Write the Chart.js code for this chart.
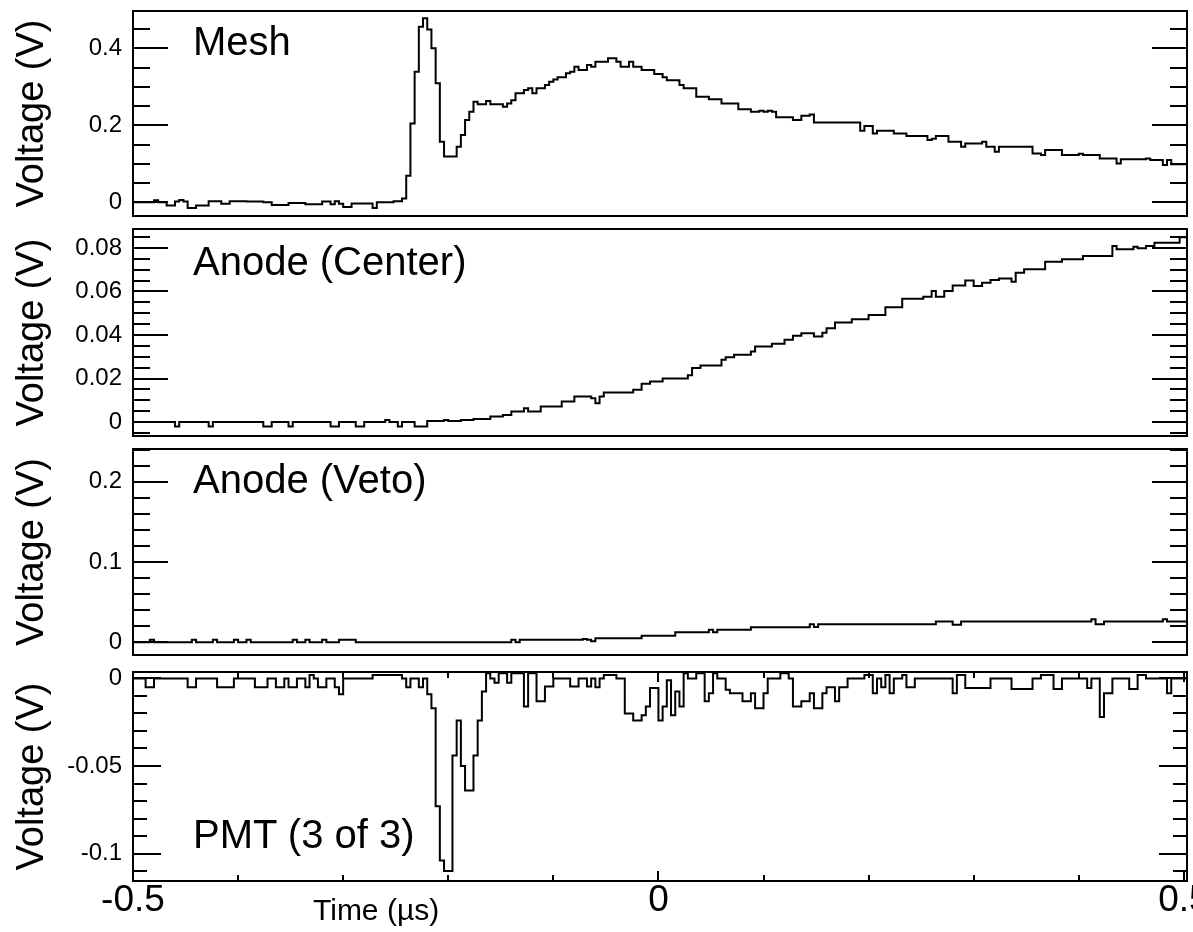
<!DOCTYPE html>
<html>
<head>
<meta charset="utf-8">
<title>Waveforms</title>
<script src="https://cdn.jsdelivr.net/npm/chart.js@4/dist/chart.umd.min.js"></script>
<style>
  html, body { margin: 0; padding: 0; background: #fff; }
  body { position: relative; width: 1193px; height: 932px; overflow: hidden; }
  canvas { position: absolute; left: 0; }
  .lbl {
    position: absolute;
    font-family: "Liberation Sans", Arial, Helvetica, sans-serif;
    line-height: 1;
    white-space: nowrap;
    color: #000;
  }
</style>
</head>
<body>
<canvas id="c-mesh"></canvas>
<canvas id="c-center"></canvas>
<canvas id="c-veto"></canvas>
<canvas id="c-pmt"></canvas>

<div class="lbl" style="left:193px; top:21px; font-size:40px;">Mesh</div>
<div class="lbl" style="left:193px; top:241px; font-size:40px;">Anode (Center)</div>
<div class="lbl" style="left:193px; top:459px; font-size:40px;">Anode (Veto)</div>
<div class="lbl" style="left:193px; top:814px; font-size:40px;">PMT (3 of 3)</div>
<div class="lbl" style="left:313px; top:895px; font-size:30px;">Time (µs)</div>

<script>
// time axis (µs)
const timeTicks = [-0.5, 0, 0.5];
const timeTickLabels = ['-0.5', '0', '0.5'];

// y tick labels per channel
const meshTicks = [0, 0.2, 0.4];
const meshTickLabels = ['0', '0.2', '0.4'];
const centerTicks = [0, 0.02, 0.04, 0.06, 0.08];
const centerTickLabels = ['0', '0.02', '0.04', '0.06', '0.08'];
const vetoTicks = [0, 0.1, 0.2];
const vetoTickLabels = ['0', '0.1', '0.2'];
const pmtTicks = [-0.1, -0.05, 0];
const pmtTickLabels = ['-0.1', '-0.05', '0'];

// histogram contents: each entry is the left edge of a run (µs) and its level (V)
const meshTime = [
  -0.500, -0.480, -0.476, -0.468, -0.460, -0.456, -0.452, -0.448, -0.440, -0.428,
  -0.416, -0.408, -0.392, -0.376, -0.368, -0.352, -0.336, -0.320, -0.312, -0.308,
  -0.304, -0.300, -0.292, -0.272, -0.268, -0.252, -0.244, -0.240, -0.236, -0.232,
  -0.228, -0.224, -0.220, -0.216, -0.212, -0.208, -0.204, -0.192, -0.188, -0.184,
  -0.180, -0.176, -0.172, -0.164, -0.160, -0.148, -0.144, -0.140, -0.136, -0.128,
  -0.124, -0.120, -0.116, -0.108, -0.104, -0.100, -0.096, -0.088, -0.084, -0.080,
  -0.076, -0.068, -0.064, -0.060, -0.048, -0.040, -0.036, -0.028, -0.024, -0.016,
  -0.004, 0.004, 0.008, 0.020, 0.024, 0.036, 0.048, 0.060, 0.076, 0.088,
  0.096, 0.100, 0.104, 0.108, 0.112, 0.128, 0.136, 0.144, 0.148, 0.192,
  0.196, 0.204, 0.208, 0.224, 0.236, 0.256, 0.260, 0.264, 0.276, 0.288,
  0.292, 0.308, 0.312, 0.320, 0.324, 0.356, 0.364, 0.368, 0.384, 0.400,
  0.404, 0.420, 0.436, 0.440, 0.464, 0.468, 0.480, 0.484, 0.488
];
const meshVolt = [
  0.000, 0.005, 0.000, -0.008, 0.002, 0.006, 0.002, -0.015, -0.008, 0.003,
  -0.004, 0.003, 0.002, 0.000, -0.007, -0.002, -0.005, 0.002, -0.005, 0.003,
  -0.004, -0.012, -0.003, -0.015, 0.000, 0.003, 0.010, 0.069, 0.205, 0.339,
  0.456, 0.478, 0.449, 0.400, 0.309, 0.157, 0.119, 0.144, 0.175, 0.214,
  0.235, 0.261, 0.255, 0.263, 0.255, 0.248, 0.257, 0.265, 0.283, 0.292,
  0.296, 0.283, 0.296, 0.305, 0.313, 0.319, 0.325, 0.335, 0.339, 0.352,
  0.344, 0.357, 0.352, 0.365, 0.374, 0.365, 0.352, 0.365, 0.352, 0.344,
  0.333, 0.325, 0.317, 0.305, 0.296, 0.274, 0.268, 0.257, 0.242, 0.235,
  0.238, 0.235, 0.238, 0.235, 0.221, 0.214, 0.225, 0.228, 0.207, 0.186,
  0.198, 0.179, 0.186, 0.179, 0.172, 0.162, 0.165, 0.172, 0.157, 0.144,
  0.153, 0.157, 0.144, 0.131, 0.144, 0.127, 0.123, 0.136, 0.123, 0.126,
  0.123, 0.114, 0.101, 0.112, 0.114, 0.110, 0.097, 0.110, 0.099
];

const centerTime = [
  -0.500, -0.460, -0.456, -0.428, -0.424, -0.376, -0.368, -0.352, -0.348, -0.312,
  -0.304, -0.288, -0.280, -0.260, -0.256, -0.248, -0.244, -0.232, -0.220, -0.204,
  -0.200, -0.188, -0.176, -0.160, -0.148, -0.140, -0.128, -0.124, -0.112, -0.092,
  -0.080, -0.064, -0.060, -0.056, -0.052, -0.024, -0.016, -0.008, 0.004, 0.028,
  0.032, 0.040, 0.060, 0.064, 0.072, 0.088, 0.092, 0.108, 0.120, 0.128,
  0.136, 0.148, 0.156, 0.160, 0.168, 0.184, 0.200, 0.216, 0.232, 0.252,
  0.260, 0.264, 0.272, 0.280, 0.292, 0.300, 0.308, 0.316, 0.324, 0.336,
  0.340, 0.348, 0.368, 0.384, 0.404, 0.432, 0.436, 0.452, 0.456, 0.464,
  0.472, 0.496
];
const centerVolt = [
  0.0000, -0.0020, 0.0000, -0.0020, 0.0000, -0.0020, 0.0000, -0.0020, 0.0000, -0.0020,
  0.0000, -0.0020, 0.0000, 0.0010, 0.0000, -0.0020, 0.0000, -0.0020, 0.0005, 0.0010,
  0.0005, 0.0010, 0.0014, 0.0026, 0.0033, 0.0049, 0.0064, 0.0049, 0.0072, 0.0094,
  0.0117, 0.0110, 0.0087, 0.0117, 0.0136, 0.0148, 0.0176, 0.0186, 0.0200, 0.0215,
  0.0248, 0.0260, 0.0286, 0.0298, 0.0309, 0.0324, 0.0347, 0.0360, 0.0378, 0.0396,
  0.0408, 0.0393, 0.0410, 0.0431, 0.0457, 0.0472, 0.0492, 0.0528, 0.0566, 0.0576,
  0.0602, 0.0576, 0.0602, 0.0628, 0.0650, 0.0625, 0.0640, 0.0653, 0.0660, 0.0645,
  0.0686, 0.0702, 0.0737, 0.0748, 0.0763, 0.0809, 0.0794, 0.0805, 0.0799, 0.0809,
  0.0824, 0.0849
];

const vetoTime = [
  -0.500, -0.484, -0.480, -0.444, -0.440, -0.424, -0.420, -0.404, -0.400, -0.392,
  -0.388, -0.348, -0.344, -0.336, -0.332, -0.320, -0.316, -0.304, -0.288, -0.140,
  -0.136, -0.132, -0.072, -0.068, -0.064, -0.060, -0.016, 0.016, 0.048, 0.052,
  0.056, 0.088, 0.144, 0.148, 0.152, 0.264, 0.280, 0.288, 0.412, 0.416,
  0.424, 0.480, 0.484
];
const vetoVolt = [
  0.000, 0.003, 0.000, 0.003, 0.000, 0.003, 0.000, 0.003, 0.000, 0.003,
  0.000, 0.003, 0.000, 0.003, 0.000, 0.003, 0.000, 0.003, 0.000, 0.003,
  0.000, 0.003, 0.004, 0.003, 0.001, 0.005, 0.008, 0.0125, 0.0154, 0.0125,
  0.0154, 0.0187, 0.0225, 0.019, 0.0225, 0.0258, 0.0217, 0.0258, 0.0287, 0.0225,
  0.0258, 0.0287, 0.0258
];

const pmtTime = [
  -0.500, -0.488, -0.480, -0.448, -0.440, -0.420, -0.404, -0.384, -0.372, -0.364,
  -0.356, -0.352, -0.344, -0.336, -0.332, -0.328, -0.324, -0.316, -0.308, -0.304,
  -0.300, -0.272, -0.244, -0.240, -0.236, -0.228, -0.224, -0.220, -0.216, -0.212,
  -0.208, -0.204, -0.196, -0.192, -0.188, -0.184, -0.176, -0.172, -0.168, -0.164,
  -0.160, -0.156, -0.152, -0.144, -0.140, -0.128, -0.124, -0.116, -0.108, -0.100,
  -0.084, -0.076, -0.068, -0.064, -0.060, -0.056, -0.052, -0.040, -0.032, -0.024,
  -0.016, -0.012, -0.008, 0.000, 0.004, 0.008, 0.012, 0.016, 0.020, 0.024,
  0.028, 0.036, 0.044, 0.048, 0.052, 0.056, 0.064, 0.068, 0.080, 0.088,
  0.092, 0.100, 0.104, 0.116, 0.124, 0.128, 0.136, 0.144, 0.148, 0.156,
  0.160, 0.168, 0.172, 0.180, 0.196, 0.204, 0.208, 0.212, 0.216, 0.220,
  0.224, 0.232, 0.236, 0.244, 0.280, 0.284, 0.292, 0.316, 0.336, 0.356,
  0.364, 0.376, 0.384, 0.408, 0.412, 0.420, 0.424, 0.432, 0.448, 0.456,
  0.464, 0.484, 0.488
];
const pmtVolt = [
  0.000, -0.005, 0.000, -0.005, 0.000, -0.005, 0.000, -0.005, 0.000, -0.005,
  0.000, -0.005, 0.000, -0.005, 0.002, 0.000, -0.005, 0.000, -0.005, -0.009,
  0.000, 0.002, 0.000, -0.005, 0.000, -0.005, 0.000, -0.009, -0.017, -0.073,
  -0.104, -0.110, -0.044, -0.024, -0.050, -0.064, -0.044, -0.024, -0.0075, 0.003,
  0.000, -0.0025, 0.003, -0.0025, 0.003, -0.016, 0.003, -0.013, -0.0046, 0.000,
  -0.0046, 0.000, -0.0046, 0.000, -0.005, 0.000, 0.002, 0.000, -0.020, -0.024,
  -0.021, -0.016, -0.0055, -0.024, -0.016, -0.001, -0.021, -0.0075, -0.016, 0.003,
  0.000, 0.003, -0.013, -0.0084, 0.003, 0.000, -0.0065, -0.0084, -0.013, -0.0084,
  -0.017, -0.0084, 0.000, 0.003, 0.000, -0.016, -0.013, -0.0084, -0.017, -0.0084,
  -0.005, -0.013, -0.005, 0.000, 0.002, -0.0084, 0.000, -0.005, 0.002, -0.0084,
  0.000, 0.002, -0.005, 0.000, -0.0084, 0.002, -0.0055, 0.000, -0.006, 0.000,
  0.002, -0.006, 0.000, -0.0055, 0.000, -0.022, -0.0084, 0.000, -0.006, 0.002,
  0.000, -0.0084, 0.000
];

const FONT = '"Liberation Sans", Arial, Helvetica, sans-serif';
const T_MIN = -0.5, T_MAX = 0.503;
const CANVAS_W = 1220;
const PAD = 24;
const X_AXIS_H = 40;

// frame box plus inward ticks on all sides, ROOT style
const frameTicks = {
  id: 'frameTicks',
  afterDraw(chart, args, o) {
    const {ctx, chartArea: a, scales: {x, y}} = chart;
    ctx.save();
    ctx.strokeStyle = '#000';
    ctx.lineWidth = 2;
    ctx.strokeRect(a.left, a.top, a.right - a.left, a.bottom - a.top);
    ctx.beginPath();
    const n0 = Math.ceil(y.min / o.yStep - 1e-6);
    const n1 = Math.floor(y.max / o.yStep + 1e-6);
    for (let n = n0; n <= n1; n++) {
      const v = n * o.yStep;
      const py = Math.round(y.getPixelForValue(v));
      const major = o.yTicks.some(t => Math.abs(t - v) < o.yStep / 10);
      const len = major ? o.yMajor : o.yMinor;
      ctx.moveTo(a.left, py); ctx.lineTo(a.left + len, py);
      ctx.moveTo(a.right, py); ctx.lineTo(a.right - len, py);
    }
    if (o.xStep) {
      const m0 = Math.ceil(x.min / o.xStep - 1e-6);
      const m1 = Math.floor(x.max / o.xStep + 1e-6);
      for (let m = m0; m <= m1; m++) {
        const v = m * o.xStep;
        const px = Math.round(x.getPixelForValue(v));
        const major = timeTicks.some(t => Math.abs(t - v) < o.xStep / 10);
        const len = major ? o.xMajor : o.xMinor;
        ctx.moveTo(px, a.bottom); ctx.lineTo(px, a.bottom - len);
        ctx.moveTo(px, a.top); ctx.lineTo(px, a.top + len);
      }
    }
    ctx.stroke();
    ctx.restore();
  }
};

const panels = [
  {canvas: 'c-mesh', time: meshTime, volt: meshVolt, ticks: meshTicks, labels: meshTickLabels,
   ymin: -0.0356, ymax: 0.497, step: 0.05, top: 11, bottom: 216, major: 35, minor: 17},
  {canvas: 'c-center', time: centerTime, volt: centerVolt, ticks: centerTicks, labels: centerTickLabels,
   ymin: -0.0064, ymax: 0.0887, step: 0.005, top: 229, bottom: 436, major: 35, minor: 17},
  {canvas: 'c-veto', time: vetoTime, volt: vetoVolt, ticks: vetoTicks, labels: vetoTickLabels,
   ymin: -0.016, ymax: 0.241, step: 0.02, top: 449, bottom: 655, major: 35, minor: 17},
  {canvas: 'c-pmt', time: pmtTime, volt: pmtVolt, ticks: pmtTicks, labels: pmtTickLabels,
   ymin: -0.1157, ymax: 0.0037, step: 0.01, top: 672, bottom: 881, major: 28, minor: 14, timeAxis: true}
];

panels.forEach(p => {
  const el = document.getElementById(p.canvas);
  const canvasTop = p.top - PAD;
  const h = p.timeAxis ? 932 - canvasTop : (p.bottom - p.top) + 2 * PAD;
  const padBottom = p.timeAxis ? h - PAD - (p.bottom - p.top) - X_AXIS_H : PAD;
  el.width = CANVAS_W;
  el.height = h;
  el.style.top = canvasTop + 'px';
  el.style.width = CANVAS_W + 'px';
  el.style.height = h + 'px';

  // histogram outline: hold each level until the next edge, close at the window end
  const pts = p.time.map((t, i) => ({x: t, y: p.volt[i]}));
  pts.push({x: T_MAX, y: p.volt[p.volt.length - 1]});

  new Chart(el, {
    type: 'line',
    data: {
      datasets: [{
        data: pts,
        borderColor: '#000',
        borderWidth: 2,
        pointRadius: 0,
        stepped: true,
        fill: false,
        tension: 0
      }]
    },
    options: {
      responsive: false,
      animation: false,
      devicePixelRatio: 1,
      layout: {padding: {top: PAD, bottom: padBottom, left: 0, right: CANVAS_W - 1187}},
      plugins: {
        legend: {display: false},
        tooltip: {enabled: false},
        frameTicks: {
          yTicks: p.ticks, yStep: p.step, yMajor: p.major, yMinor: p.minor,
          xStep: p.timeAxis ? 0.1 : 0, xMajor: 10, xMinor: 6
        }
      },
      scales: {
        x: {
          type: 'linear',
          min: T_MIN,
          max: T_MAX,
          display: !!p.timeAxis,
          grid: {display: false, drawTicks: false},
          border: {display: false},
          afterBuildTicks: s => { s.ticks = timeTicks.map(v => ({value: v})); },
          afterFit: s => { s.height = p.timeAxis ? X_AXIS_H : 0; },
          ticks: {
            autoSkip: false,
            maxRotation: 0,
            padding: 1,
            color: '#000',
            font: {family: FONT, size: 37, lineHeight: 1},
            callback: (v, i) => timeTickLabels[i]
          }
        },
        y: {
          type: 'linear',
          min: p.ymin,
          max: p.ymax,
          grid: {display: false, drawTicks: false},
          border: {display: false},
          afterBuildTicks: s => { s.ticks = p.ticks.map(v => ({value: v})); },
          afterFit: s => { s.width = 133; },
          ticks: {
            autoSkip: false,
            padding: 11,
            color: '#000',
            font: {family: FONT, size: 24, lineHeight: 1},
            callback: (v, i) => p.labels[i]
          },
          title: {
            display: true,
            text: 'Voltage (V)',
            color: '#000',
            font: {family: FONT, size: 38, lineHeight: 1},
            padding: {top: 14, bottom: 0}
          }
        }
      }
    },
    plugins: [frameTicks]
  });
});
</script>
</body>
</html>
